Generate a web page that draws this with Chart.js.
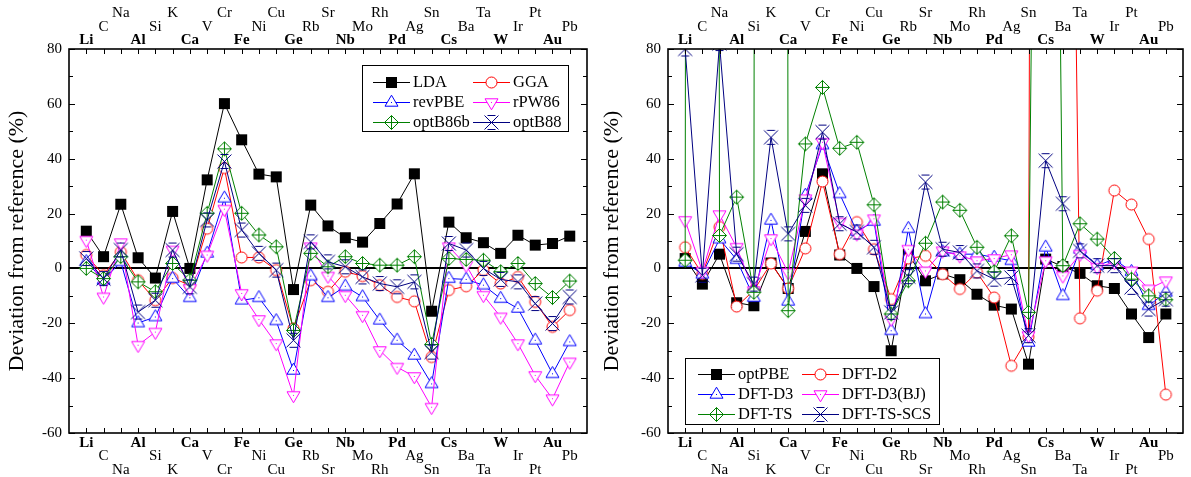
<!DOCTYPE html>
<html><head><meta charset="utf-8">
<script src="https://cdn.jsdelivr.net/npm/chart.js@4.4.1/dist/chart.umd.min.js"></script>
<style>
html,body{margin:0;padding:0;background:#fff;}
#wrap{position:relative;width:1191px;height:477px;overflow:hidden;}
canvas{position:absolute;top:0;}
#c1{left:0;}
#c2{left:595px;}
</style></head><body>
<div id="wrap"><canvas id="c1" width="595" height="477"></canvas><canvas id="c2" width="596" height="477"></canvas></div>
<script>
const elements = ['Li','C','Na','Al','Si','K','Ca','V','Cr','Fe','Ni','Cu','Ge','Rb','Sr','Nb','Mo','Rh','Pd','Ag','Sn','Cs','Ba','Ta','W','Ir','Pt','Au','Pb'];
const yTickValues = [-60,-40,-20,0,20,40,60,80];
const yTitle = 'Deviation from reference (%)';

// Left panel
const LDA     = [13.6,4.3,23.4,3.9,-3.5,20.8,0,32.3,60.1,46.9,34.4,33.4,-7.7,23.1,15.5,11.2,9.6,16.4,23.5,34.5,-15.6,16.9,11.2,9.4,5.5,12.1,8.5,9.1,11.8];
const GGA     = [4.9,-2.5,6,-4.3,-11.6,-3.5,-6.1,14.5,36.6,4.0,4.0,-0.6,-21.9,-4.3,-8.5,-1.2,-2.8,-6.1,-10.4,-12,-32.3,-7.9,-6.5,-0.6,-5.5,-3.1,-12.2,-21.3,-15.2];
const revPBE  = [2.4,-4.3,2.4,-19.9,-17.7,-3.7,-10.7,5.5,25.6,-11.6,-10.7,-19.1,-37.2,-2.8,-10.7,-6.5,-10.4,-18.9,-26.2,-31.7,-42.1,-3.7,-4.0,-6.1,-11,-14.6,-26.2,-38.4,-26.8];
const rPW86   = [10.3,-10.4,9.4,-28,-23.2,6.7,-7.3,4.9,21.6,-9.1,-18.6,-27.4,-46.3,7.9,-2.8,-9.8,-17.1,-29.9,-36,-39.4,-50.6,7.9,1.2,-9.8,-17.7,-27.4,-39,-47.5,-34.1];
const optB86b = [0,-3.7,4.3,-4.9,-8.5,1.8,-4.3,20.1,43.6,20.1,12.2,7.9,-22.6,5.5,0.6,4.3,1.8,1.2,1.2,4.3,-27.7,3.6,3.3,3.0,-1.2,1.8,-5.5,-10.6,-4.6];
const optB88  = [3.6,-3.7,6.7,-15.9,-11.6,6.7,-6.7,17.7,39.0,14.0,5.5,-0.6,-26.2,9.7,2.4,0.6,-3.1,-5.5,-6.7,-4.9,-30.5,9.1,6.7,0,-4.0,-4.9,-12.8,-20.1,-10.4];

// Right panel
const optPBE   = [3.6,-5.7,5.2,-12.5,-13.6,2,-7.3,13.5,34.5,4.9,0,-6.6,-30,5.2,-4.5,-2,-4.1,-9.4,-13.4,-14.8,-34.9,3.4,0.7,-1.8,-6.3,-7.3,-16.6,-25.2,-16.6];
const DFT_D2   = [7.7,-2,15.1,-13.9,-8,1.8,-7.3,7.3,31.7,5.2,16.9,7.0,-11.2,3.6,4.6,-2.1,-7.5,-1.5,-10.6,-35.5,-25,2000,440,-18.2,-8.1,28.4,23.3,10.7,-46];
const DFT_D3   = [2.2,-2.1,10.7,3.2,-10.6,17.5,-12,26.6,45,27.2,13.5,17.1,-22.7,14.5,-16.6,6,5.2,5.2,4,2.8,-27,7.7,-10,7,1,3.4,-1.2,-13.6,-8.7];
const DFT_D3BJ = [17.5,-1,19.6,7.7,-8.1,10.9,-1.5,25.4,46,16.9,12.6,18.1,-18.5,7,-0.9,6.4,4.6,2.8,3.6,5,-24.5,2.8,-2.7,5.2,0.4,2.2,-0.9,-7.5,-4.5];
const DFT_TS   = [3,5000,12,26,-8.7,5000,-15.4,45.4,66,43.8,46,23.2,-16.6,-4.5,9.2,24.2,21.2,7.7,-1.2,11.9,-16,595,1,16.3,10.7,3.6,-3.9,-10,-11.4];
const DFT_TS_SCS = [80,-2.5,82,5.2,-5.7,47.8,12.6,23,49.7,16.3,13.3,7.7,-16,-3,31.5,7,5.8,-0.9,-3.9,-3.3,-24.5,39.3,23.6,6.4,1,1,-6.9,-14.8,-11.2];

const FONT = "'Liberation Serif','Times New Roman',serif";

function makeMarker(kind, color) {
  const S = 21, c = S / 2;
  const cv = document.createElement('canvas'); cv.width = S; cv.height = S;
  const g = cv.getContext('2d');
  g.strokeStyle = color; g.fillStyle = color; g.lineWidth = 1;
  if (kind === 'square') {
    g.fillRect(c - 5.5, c - 5.5, 11, 11);
  } else if (kind === 'circle') {
    g.beginPath(); g.arc(c, c, 5.5, 0, 2 * Math.PI);
    g.fillStyle = '#fff'; g.fill(); g.stroke();
  } else if (kind === 'up' || kind === 'down') {
    const s = kind === 'up' ? 1 : -1;
    g.beginPath();
    g.moveTo(c, c - 7.3 * s); g.lineTo(c + 6.5, c + 3.7 * s); g.lineTo(c - 6.5, c + 3.7 * s); g.closePath();
    g.fillStyle = '#fff'; g.fill(); g.stroke();
    g.fillStyle = color; g.fillRect(c - 0.5, c - 0.5, 1, 1);
  } else if (kind === 'diamondPlus') {
    g.beginPath();
    g.moveTo(c, c - 7); g.lineTo(c + 7, c); g.lineTo(c, c + 7); g.lineTo(c - 7, c); g.closePath();
    g.fillStyle = '#fff'; g.fill(); g.stroke();
    g.beginPath(); g.moveTo(c, c - 7); g.lineTo(c, c + 7); g.moveTo(c - 7, c); g.lineTo(c + 7, c); g.stroke();
  } else if (kind === 'xstar') {
    g.beginPath();
    g.moveTo(c - 7, c - 7); g.lineTo(c + 7, c + 7);
    g.moveTo(c + 7, c - 7); g.lineTo(c - 7, c + 7);
    g.moveTo(c - 4, c - 7); g.lineTo(c + 4, c - 7);
    g.moveTo(c - 4, c + 7); g.lineTo(c + 4, c + 7);
    g.stroke();
  }
  return cv;
}

const framePlugin = {
  id: 'frame',
  afterDraw(chart) {
    const {ctx, chartArea: a, scales} = chart;
    const xs = scales.x, ys = scales.y;
    ctx.save();
    ctx.strokeStyle = '#000'; ctx.lineWidth = 1;
    ctx.beginPath();
    for (let i = 0; i < elements.length; i++) {
      const px = Math.round(xs.getPixelForValue(i)) + 0.5;
      ctx.moveTo(px, a.top); ctx.lineTo(px, a.top + 5);
      ctx.moveTo(px, a.bottom); ctx.lineTo(px, a.bottom - 5);
    }
    for (let v = ys.min; v <= ys.max; v += 10) {
      const py = Math.round(ys.getPixelForValue(v)) + 0.5;
      const len = (v % 20 === 0) ? 6 : 4;
      ctx.moveTo(a.left, py); ctx.lineTo(a.left + len, py);
      ctx.moveTo(a.right, py); ctx.lineTo(a.right - len, py);
    }
    ctx.stroke();
    ctx.lineWidth = 1.6;
    ctx.strokeRect(a.left, a.top, a.right - a.left, a.bottom - a.top);
    ctx.restore();
  }
};

const boxLegend = {
  id: 'boxLegend',
  afterDatasetsDraw(chart, args, o) {
    const {ctx} = chart;
    ctx.save();
    ctx.fillStyle = '#fff';
    ctx.fillRect(o.x, o.y, o.w, o.h);
    ctx.strokeStyle = '#000'; ctx.lineWidth = 1;
    ctx.strokeRect(o.x + 0.5, o.y + 0.5, o.w, o.h);
    chart.data.datasets.forEach((ds, i) => {
      const col = i % 2, row = Math.floor(i / 2);
      const lx = o.x + o.colX[col], ly = o.y + o.rowY[row];
      ctx.strokeStyle = ds.borderColor; ctx.lineWidth = 1;
      ctx.beginPath(); ctx.moveTo(lx, ly + 0.5); ctx.lineTo(lx + o.lineLen, ly + 0.5); ctx.stroke();
      const m = ds.pointStyle;
      ctx.drawImage(m, Math.round(lx + o.lineLen / 2 - m.width / 2), Math.round(ly - m.height / 2));
      ctx.fillStyle = '#000';
      ctx.font = o.fontSize + 'px ' + FONT;
      ctx.textBaseline = 'middle'; ctx.textAlign = 'left';
      ctx.fillText(ds.label, lx + o.lineLen + o.gap, ly + 1);
    });
    ctx.restore();
  }
};

function labelFor(i, top) {
  const n = elements[i];
  if (n === undefined) return '';
  const r = i % 3;
  if (r === 0) return n;
  if (top) return r === 1 ? [n, ''] : [n, '', ''];
  return r === 1 ? ['', n] : ['', '', n];
}

function tickFont(ctx) {
  return {family: FONT, size: 15, lineHeight: 0.9, weight: (ctx.index % 3 === 0) ? 'bold' : 'normal'};
}

function makeChart(id, series, legend, leftW, rightW) {
  const n = series.length;
  const datasets = series.map((s, i) => ({
    label: s.label,
    data: s.values.map((v, j) => ({x: j, y: v})),
    borderColor: s.color,
    borderWidth: 1,
    pointStyle: makeMarker(s.marker, s.color),
    pointRadius: 7,
    pointHoverRadius: 7,
    tension: 0,
    fill: false,
    clip: 0,
    order: n - 1 - i
  }));
  const xCommon = {
    type: 'linear', min: -1, max: 29,
    grid: {display: false, drawTicks: false},
    border: {display: false},
    afterBuildTicks: s => { s.ticks = elements.map((e, i) => ({value: i})); }
  };
  return new Chart(document.getElementById(id), {
    type: 'line',
    data: {datasets},
    options: {
      responsive: false, animation: false, events: [],
      layout: {padding: 0},
      plugins: {legend: {display: false}, tooltip: {enabled: false}, boxLegend: legend},
      scales: {
        x: Object.assign({}, xCommon, {
          position: 'bottom',
          ticks: {autoSkip: false, maxRotation: 0, minRotation: 0, padding: 3, color: '#000',
                  font: tickFont, callback: v => labelFor(v, false)},
          afterFit: s => { s.height = 44; }
        }),
        x2: Object.assign({}, xCommon, {
          position: 'top',
          ticks: {autoSkip: false, maxRotation: 0, minRotation: 0, padding: 2, color: '#000',
                  font: tickFont, callback: v => labelFor(v, true)},
          afterFit: s => { s.height = 49; }
        }),
        y: {
          type: 'linear', position: 'left', min: -60, max: 80,
          afterBuildTicks: s => { s.ticks = yTickValues.map(v => ({value: v})); },
          ticks: {padding: 7, color: '#000', font: {family: FONT, size: 15}},
          grid: {drawTicks: false, lineWidth: 2,
                 color: c => (c.tick && c.tick.value === 0) ? '#000' : 'rgba(0,0,0,0)'},
          border: {display: false},
          title: {display: true, text: yTitle, color: '#000', font: {family: FONT, size: 22}, padding: {top: 4, bottom: 0}},
          afterFit: s => { s.width = leftW; }
        },
        y2: {
          type: 'linear', position: 'right', min: -60, max: 80,
          ticks: {display: false}, grid: {display: false, drawTicks: false}, border: {display: false},
          afterFit: s => { s.width = rightW; }
        }
      }
    },
    plugins: [framePlugin, boxLegend]
  });
}

makeChart('c1', [
  {label: 'LDA', values: LDA, color: '#000000', marker: 'square'},
  {label: 'GGA', values: GGA, color: '#ff0000', marker: 'circle'},
  {label: 'revPBE', values: revPBE, color: '#0000ff', marker: 'up'},
  {label: 'rPW86', values: rPW86, color: '#ff00ff', marker: 'down'},
  {label: 'optB86b', values: optB86b, color: '#008000', marker: 'diamondPlus'},
  {label: 'optB88', values: optB88, color: '#000080', marker: 'xstar'}
], {x: 362, y: 65, w: 206, h: 66, colX: [11, 111], rowY: [17, 37, 57], lineLen: 37, gap: 3, fontSize: 16.5}, 69, 8);

makeChart('c2', [
  {label: 'optPBE', values: optPBE, color: '#000000', marker: 'square'},
  {label: 'DFT-D2', values: DFT_D2, color: '#ff0000', marker: 'circle'},
  {label: 'DFT-D3', values: DFT_D3, color: '#0000ff', marker: 'up'},
  {label: 'DFT-D3(BJ)', values: DFT_D3BJ, color: '#ff00ff', marker: 'down'},
  {label: 'DFT-TS', values: DFT_TS, color: '#008000', marker: 'diamondPlus'},
  {label: 'DFT-TS-SCS', values: DFT_TS_SCS, color: '#000080', marker: 'xstar'}
], {x: 90, y: 358, w: 254, h: 66, colX: [13, 117], rowY: [16, 36, 56], lineLen: 37, gap: 3, fontSize: 16.5}, 73, 6);
</script>
</body></html>
